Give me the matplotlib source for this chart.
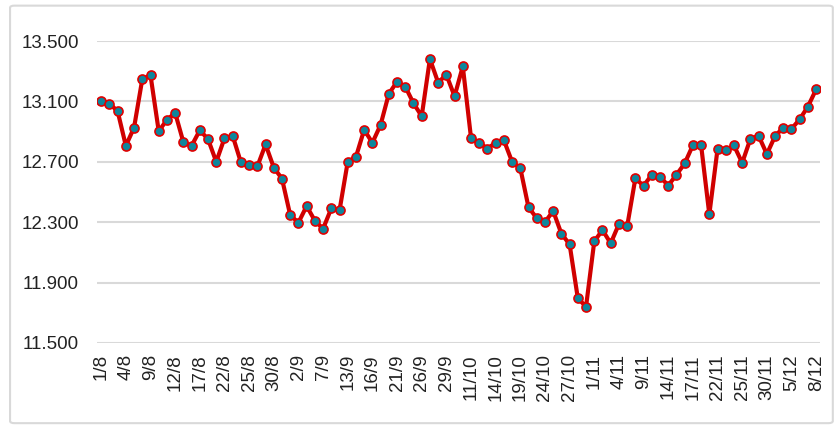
import matplotlib.pyplot as plt
from matplotlib.patches import FancyBboxPatch
from matplotlib.ticker import FuncFormatter

# Closing values, one per trading day (1/8 .. 8/12)
values = [
    13100, 13086, 13035, 12806, 12927, 13247, 13273, 12903, 12978, 13024,
    12830, 12806, 12909, 12850, 12700, 12856, 12872, 12696, 12682, 12669,
    12815, 12662, 12588, 12347, 12297, 12407, 12310, 12257, 12391, 12378,
    12700, 12733, 12912, 12826, 12945, 13150, 13231, 13198, 13088, 13002,
    13381, 13225, 13277, 13134, 13332, 12859, 12826, 12788, 12826, 12843,
    12700, 12658, 12398, 12327, 12301, 12374, 12224, 12153, 11796, 11741,
    12173, 12248, 12160, 12288, 12272, 12590, 12541, 12614, 12601, 12543,
    12614, 12689, 12810, 12810, 12352, 12784, 12775, 12808, 12693, 12852,
    12872, 12751, 12870, 12927, 12918, 12982, 13066, 13180,
]

# every third trading day gets a label
tick_labels = [
    "1/8", "4/8", "9/8", "12/8", "17/8", "22/8", "25/8", "30/8", "2/9", "7/9",
    "13/9", "16/9", "21/9", "26/9", "29/9", "11/10", "14/10", "19/10", "24/10", "27/10",
    "1/11", "4/11", "9/11", "14/11", "17/11", "22/11", "25/11", "30/11", "5/12", "8/12",
]

y_ticks = [11500, 11900, 12300, 12700, 13100, 13500]

plt.rcParams["font.family"] = ["Liberation Sans", "DejaVu Sans"]

fig = plt.figure(figsize=(8.37, 4.34), dpi=100)

# light grey frame around the whole chart
frame = FancyBboxPatch((0.012, 0.025), 0.983, 0.962, boxstyle="round,pad=0,rounding_size=0.005",
                       transform=fig.transFigure, facecolor="none", edgecolor="#d9d9d9",
                       linewidth=1.5, zorder=-1)
fig.patches.append(frame)

ax = fig.add_axes([0.116, 0.2097, 0.864, 0.6958])
ax.patch.set_alpha(0)

x = list(range(len(values)))
ax.plot(x, values, color="#d00000", linewidth=3.0, marker="o", markersize=6.5,
        markerfacecolor="#0e869c", markeredgecolor="#e00000", markeredgewidth=1.2,
        solid_joinstyle="round", zorder=3)

ax.set_xlim(-0.5, len(values) - 0.5)
ax.set_ylim(11500, 13500)
ax.set_yticks(y_ticks)
ax.yaxis.set_major_formatter(FuncFormatter(lambda v, p: f"{v / 1000:.3f}"))
ax.set_xticks(x[::3])
ax.set_xticklabels(tick_labels, rotation=90)

ax.grid(axis="y", color="#d9d9d9", linewidth=1.5)
ax.set_axisbelow(True)
for s in ax.spines.values():
    s.set_visible(False)
ax.tick_params(axis="both", length=0, labelsize=13.5, colors="#222222")
ax.tick_params(axis="y", pad=13)
ax.tick_params(axis="x", pad=8)

fig.savefig("out.png", dpi=100)
